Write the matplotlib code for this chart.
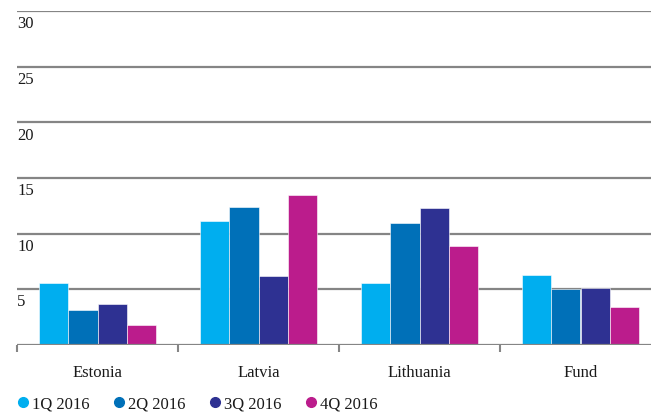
import matplotlib.pyplot as plt
import matplotlib.transforms as mtransforms
from matplotlib.lines import Line2D
import numpy as np

categories = ['Estonia', 'Latvia', 'Lithuania', 'Fund']
series_names = ['1Q 2016', '2Q 2016', '3Q 2016', '4Q 2016']
q1 = [5.6, 11.1, 5.6, 6.3]
q2 = [3.1, 12.4, 11.0, 5.0]
q3 = [3.7, 6.2, 12.3, 5.1]
q4 = [1.8, 13.5, 8.9, 3.4]
y_ticks = [5, 10, 15, 20, 25, 30]

colors = ['#00aeef', '#0070b8', '#2e3192', '#bb1c8c']
font = 'Liberation Serif'
grid_col = '#858585'

fig = plt.figure(figsize=(6.51, 4.14), dpi=100)
ax = fig.add_axes([17 / 651, 1 - 346 / 414, 644 / 651, 334 / 414])

x = np.arange(len(categories))
width = 0.182
for i, vals in enumerate([q1, q2, q3, q4]):
    ax.bar(x + (i - 1.5) * width, vals, width, color=colors[i],
           edgecolor='#ffffff', linewidth=0.4, zorder=3)

ax.set_xlim(-0.5, len(categories) - 0.5)
ax.set_ylim(0, 30)

# horizontal gridlines
for v in y_ticks:
    ax.axhline(v, color=grid_col, linewidth=1.6, zorder=1)
ax.axhline(0, color=grid_col, linewidth=1.6, zorder=4)

# y labels sit left-aligned just under each gridline
offset = mtransforms.ScaledTranslation(0, -3 / 72, fig.dpi_scale_trans)
for v in y_ticks:
    ax.text(0, v, str(v), transform=ax.get_yaxis_transform() + offset,
            ha='left', va='top', fontsize=12, family=font, color='#1a1a1a')

ax.set_yticks([])
for s in ax.spines.values():
    s.set_visible(False)

# category labels and separator ticks
ax.set_xticks(x)
ax.set_xticklabels(categories, family=font, fontsize=12, color='#1a1a1a')
ax.tick_params(axis='x', which='major', length=0, pad=14)
ax.set_xticks(np.arange(-0.5, len(categories)), minor=True)
ax.tick_params(axis='x', which='minor', length=5, width=1.5, color=grid_col)

handles = [Line2D([], [], marker='o', linestyle='', markersize=7,
                  markerfacecolor=c, markeredgecolor=c) for c in colors]
fig.legend(handles, series_names, loc='center left',
           bbox_to_anchor=(0.005, 1 - 405 / 414),
           ncol=4, frameon=False, handlelength=0.6, handletextpad=0.25,
           columnspacing=1.45, prop={'family': font, 'size': 12},
           labelcolor='#1a1a1a')

fig.savefig('out.png', dpi=100)
